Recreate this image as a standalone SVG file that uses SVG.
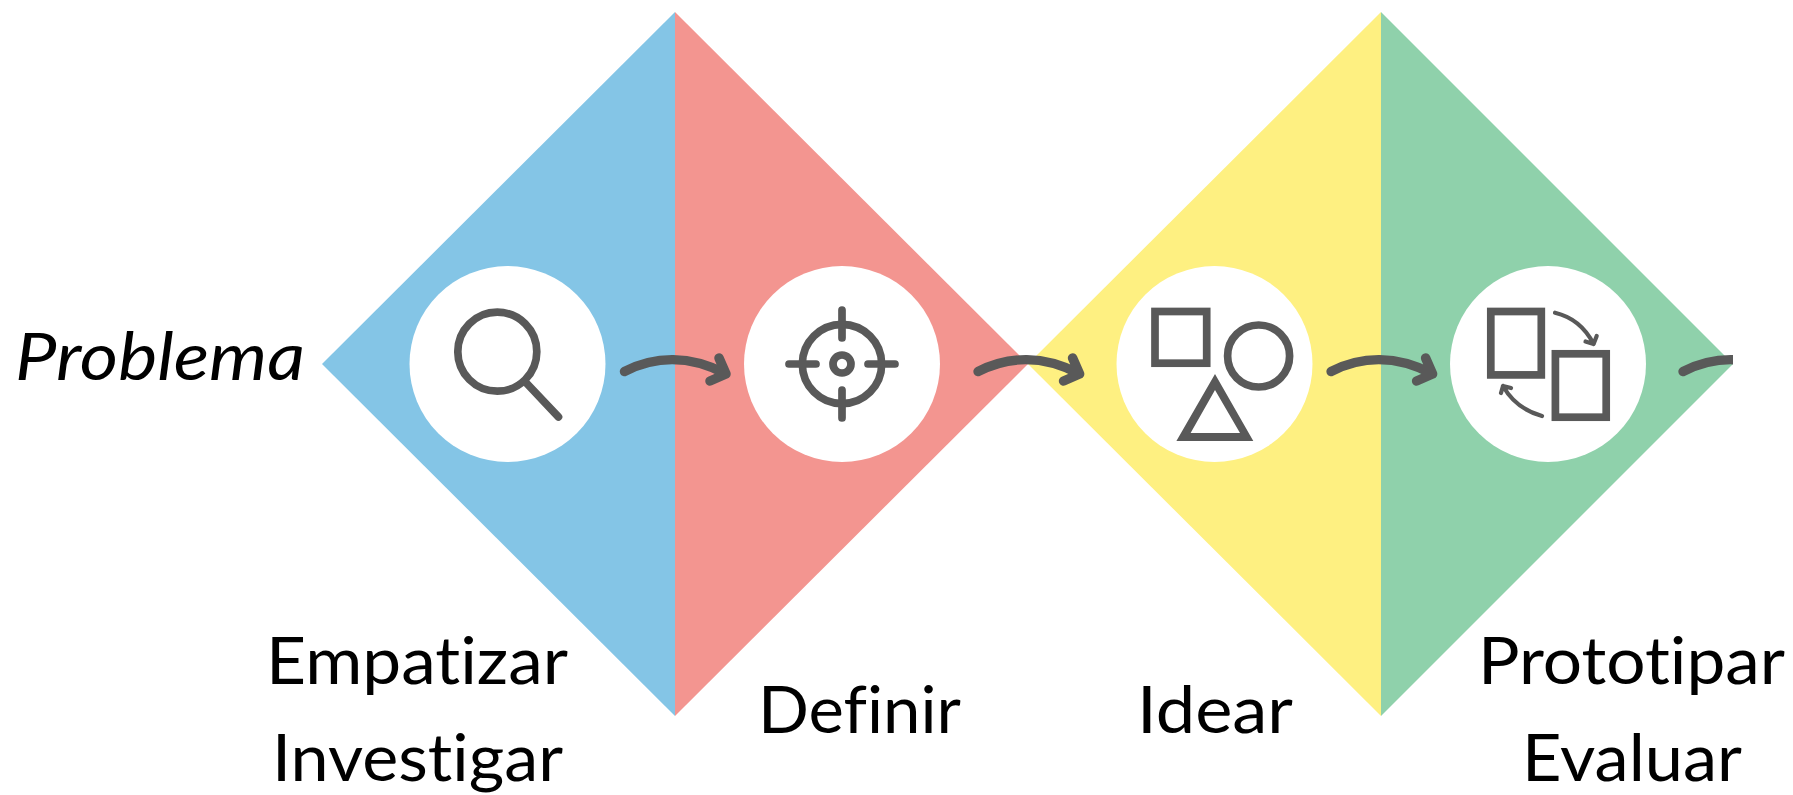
<svg xmlns="http://www.w3.org/2000/svg" width="1793" height="795" viewBox="0 0 1793 795">
<style>
.ln{fill:none;stroke:#595959;stroke-width:7.7;stroke-linecap:round;stroke-linejoin:round}
.sq{fill:none;stroke:#595959;stroke-width:7.7;stroke-linejoin:miter}
.thin{fill:none;stroke:#595959;stroke-width:4.2;stroke-linecap:round;stroke-linejoin:round}
.hole{fill:#fff}
.lb{font-family:Lato,"Open Sans",sans-serif;font-size:65px;fill:#000;font-variant-ligatures:none}
</style>
<defs>
<g id="arrow"><path class="ln" style="stroke-width:9.5" d="M624.5 371.5C655 356 690 355 726 374M719 358L726 374L710 381"/></g>
<clipPath id="edge"><rect x="0" y="0" width="1733" height="795"/></clipPath>
</defs>
<rect width="1793" height="795" fill="#fff"/>
<g id="diamonds">
<polygon fill="#84C5E6" points="675,12 675,716 322,364"/>
<polygon fill="#F39590" points="675,12 675,716 1028,364"/>
<polygon fill="#FEF081" points="1381,12 1381,716 1028,364"/>
<polygon fill="#8FD1AB" points="1381,12 1381,716 1733,364"/>
</g>
<text id="problema" class="lb" x="15" y="380" font-style="italic" textLength="290" lengthAdjust="spacingAndGlyphs">Problema</text>
<g id="empatizar">
<circle class="hole" cx="507.5" cy="364" r="98"/>
<circle class="ln" cx="497.3" cy="351.7" r="39.5"/>
<path class="ln" d="M526 382.7L558.5 417"/>
<text class="lb" x="266" y="684" textLength="302" lengthAdjust="spacingAndGlyphs">Empatizar</text>
<text class="lb" x="272" y="781" textLength="291" lengthAdjust="spacingAndGlyphs">Investigar</text>
</g>
<g id="definir">
<circle class="hole" cx="842" cy="364" r="98"/>
<circle class="ln" cx="842" cy="364" r="39.7"/>
<circle class="ln" cx="842" cy="364" r="9"/>
<path class="ln" d="M842 310V338M842 390V418M789 364H816M868 364H895"/>
<text class="lb" x="758" y="732.7" textLength="203" lengthAdjust="spacingAndGlyphs">Definir</text>
</g>
<g id="idear">
<circle class="hole" cx="1214.5" cy="364" r="98"/>
<rect class="sq" x="1155" y="311.5" width="51.7" height="51.7"/>
<circle class="ln" cx="1258.6" cy="356" r="31"/>
<path fill="#595959" fill-rule="evenodd" d="M1215 374L1253.3 441H1176.4ZM1215 390L1190.6 433H1240Z"/>
<text class="lb" x="1137" y="733" textLength="156" lengthAdjust="spacingAndGlyphs">Idear</text>
</g>
<g id="prototipar">
<circle class="hole" cx="1548" cy="364" r="98"/>
<rect class="sq" x="1490.8" y="311.5" width="50.5" height="63.4"/>
<rect class="sq" x="1555.4" y="353.8" width="50.8" height="63.4"/>
<path class="thin" d="M1555 312.7C1573 317 1585 327 1593.6 344M1596.7 336L1593.6 344L1585.5 341.5"/>
<path class="thin" d="M1542 416C1524 411 1512 402 1503 386M1501 393L1503 386L1511 388"/>
<text class="lb" x="1478" y="684" textLength="307" lengthAdjust="spacingAndGlyphs">Prototipar</text>
<text class="lb" x="1522" y="781" textLength="220" lengthAdjust="spacingAndGlyphs">Evaluar</text>
</g>
<g id="connectors">
<use href="#arrow"/>
<use href="#arrow" x="353.6"/>
<use href="#arrow" x="706.6"/>
<g clip-path="url(#edge)"><use href="#arrow" x="1058.6"/></g>
</g>
</svg>
